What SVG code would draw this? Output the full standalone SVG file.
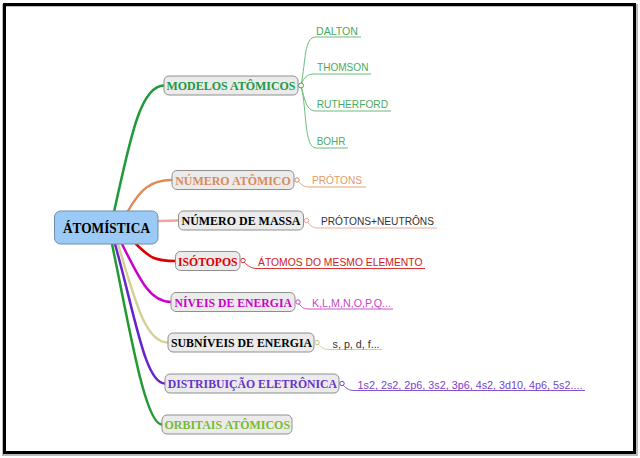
<svg xmlns="http://www.w3.org/2000/svg" width="640" height="458" viewBox="0 0 640 458">
<style>
.node rect{fill:#ebebeb;stroke:#8f8f8f;stroke-width:1}
.nt{font-family:"Liberation Serif","Times New Roman",serif;font-weight:bold;font-size:13px;text-anchor:middle}
.lt{font-family:"Liberation Sans",Arial,sans-serif;font-size:10.5px}
.conn path{fill:none;stroke-width:2.5;stroke-linecap:round}
.leaf path{fill:none;stroke-width:1}
.dot{fill:#fff;stroke-width:1}
</style>
<rect width="640" height="458" fill="#fff"/>
<rect x="3.5" y="5.5" width="633" height="449" fill="none" stroke="#bbb" stroke-width="3"/>
<rect x="4.5" y="4.5" width="630" height="448" fill="none" stroke="#000" stroke-width="3"/>

<g id="connectors" class="conn">
<path d="M114,212 C130,140 140,85.5 164,85.5" stroke="#1f9a3a"/>
<path d="M128,211 C140,190 150,180 172,180" stroke="#e08a5a"/>
<path d="M158,221 L179,220.5" stroke="#f5a3a0"/>
<path d="M136,244 C150,258 155,261 175.5,261" stroke="#dd0000"/>
<path d="M122,244 C140,280 150,302 171,302" stroke="#cc00cc"/>
<path d="M118,244 C135,300 145,342.5 168,342.5" stroke="#d3d098"/>
<path d="M115,244 C135,315 145,383.5 165,383.5" stroke="#6622cc"/>
<path d="M112,244 C130,330 145,424.5 162,424.5" stroke="#229933"/>
</g>

<g id="n-center">
<rect x="54.5" y="211" width="103.5" height="33" rx="6" fill="#9ccaf6" stroke="#6d8fae" stroke-width="1"/>
<text x="106.5" y="232.5" class="nt" fill="#000" textLength="87" lengthAdjust="spacingAndGlyphs" style="font-size:15px">ÁTOMÍSTICA</text>
</g>

<g id="n-modelos" class="node">
<rect x="164" y="76" width="134" height="19" rx="5"/>
<text x="231" y="90" class="nt" fill="#229944" textLength="129" lengthAdjust="spacingAndGlyphs">MODELOS ATÔMICOS</text>
</g>
<g id="l-modelos" class="leaf">
<path d="M301,85.5 C306,60 304,37 316,37 L361,37" stroke="#6cbb7c"/>
<path d="M301,85.5 C304,76 308,74 316,74 L371,74" stroke="#6cbb7c"/>
<path d="M301,85.5 C305,100 306,111 316,111 L391,111" stroke="#6cbb7c"/>
<path d="M301,85.5 C307,110 304,148 316,148 L348,148" stroke="#6cbb7c"/>
<circle cx="301" cy="85.5" r="2.5" class="dot" stroke="#4a9a5a"/>
<text x="316" y="34.5" class="lt" fill="#4caa60" textLength="42" lengthAdjust="spacingAndGlyphs">DALTON</text>
<text x="317" y="71" class="lt" fill="#4caa60" textLength="51.4" lengthAdjust="spacingAndGlyphs">THOMSON</text>
<text x="316.7" y="108" class="lt" fill="#4caa60" textLength="71.4" lengthAdjust="spacingAndGlyphs">RUTHERFORD</text>
<text x="316.7" y="145" class="lt" fill="#4caa60" textLength="28.6" lengthAdjust="spacingAndGlyphs">BOHR</text>
</g>

<g id="n-numatomico" class="node">
<rect x="172" y="170.5" width="122" height="19" rx="5"/>
<text x="233" y="184.7" class="nt" fill="#d98a5a" textLength="115.5" lengthAdjust="spacingAndGlyphs">NÚMERO ATÔMICO</text>
</g>
<g id="l-numatomico" class="leaf">
<path d="M298,181 C302,185 304,187 309,187 L366,187" stroke="#e8a070"/>
<circle cx="297" cy="180" r="2.2" class="dot" stroke="#d98a5a"/>
<text x="312" y="184" class="lt" fill="#e09a6a" textLength="50" lengthAdjust="spacingAndGlyphs">PRÓTONS</text>
</g>

<g id="n-nummassa" class="node">
<rect x="178.5" y="211" width="125" height="19" rx="5"/>
<text x="241" y="225.2" class="nt" fill="#000" textLength="119" lengthAdjust="spacingAndGlyphs">NÚMERO DE MASSA</text>
</g>
<g id="l-nummassa" class="leaf">
<path d="M307,221.5 C311,226 313,228 318,228 L437,228" stroke="#f4a8a0"/>
<circle cx="306.5" cy="220.5" r="2.2" class="dot" stroke="#f0a0a0"/>
<text x="321" y="225" class="lt" fill="#333" textLength="113" lengthAdjust="spacingAndGlyphs">PRÓTONS+NEUTRÔNS</text>
</g>

<g id="n-isotopos" class="node">
<rect x="175.5" y="251.5" width="64.5" height="19" rx="5"/>
<text x="207.8" y="265.7" class="nt" fill="#dd0000" textLength="59.5" lengthAdjust="spacingAndGlyphs">ISÓTOPOS</text>
</g>
<g id="l-isotopos" class="leaf">
<path d="M244,262 C248,266 251,268.5 257,268.5 L425,268.5" stroke="#dd3333"/>
<circle cx="243" cy="260.5" r="2.2" class="dot" stroke="#dd3333"/>
<text x="258" y="266" class="lt" fill="#cc2222" textLength="164.5" lengthAdjust="spacingAndGlyphs">ÁTOMOS DO MESMO ELEMENTO</text>
</g>

<g id="n-niveis" class="node">
<rect x="171" y="292.5" width="124" height="19" rx="5"/>
<text x="233.3" y="306.7" class="nt" fill="#cc00cc" textLength="117.5" lengthAdjust="spacingAndGlyphs">NÍVEIS DE ENERGIA</text>
</g>
<g id="l-niveis" class="leaf">
<path d="M299,303.5 C302,308 304,309 309,309 L393,309" stroke="#cc55cc"/>
<circle cx="298" cy="302" r="2.2" class="dot" stroke="#cc44cc"/>
<text x="312" y="307" class="lt" fill="#cc44cc" textLength="79" lengthAdjust="spacingAndGlyphs">K,L,M,N,O,P,Q...</text>
</g>

<g id="n-subniveis" class="node">
<rect x="168" y="333" width="146" height="19" rx="5"/>
<text x="241.5" y="347.2" class="nt" fill="#000" textLength="141" lengthAdjust="spacingAndGlyphs">SUBNÍVEIS DE ENERGIA</text>
</g>
<g id="l-subniveis" class="leaf">
<path d="M318,344 C322,348 324,349.5 329,349.5 L382,349.5" stroke="#d3d098"/>
<circle cx="317" cy="342.5" r="2.2" class="dot" stroke="#c8c488"/>
<text x="332.6" y="348" class="lt" fill="#333" textLength="47" lengthAdjust="spacingAndGlyphs">s, p, d, f...</text>
</g>

<g id="n-distribuicao" class="node">
<rect x="165" y="374" width="174" height="19" rx="5"/>
<text x="252.4" y="388.2" class="nt" fill="#6633cc" textLength="169.4" lengthAdjust="spacingAndGlyphs">DISTRIBUIÇÃO ELETRÔNICA</text>
</g>
<g id="l-distribuicao" class="leaf">
<path d="M343,385 C347,389 349,390.5 355,390.5 L585,390.5" stroke="#8855cc"/>
<circle cx="342" cy="383.5" r="2.2" class="dot" stroke="#7744cc"/>
<text x="357.5" y="389" class="lt" fill="#7744cc" textLength="225" lengthAdjust="spacingAndGlyphs">1s2, 2s2, 2p6, 3s2, 3p6, 4s2, 3d10, 4p6, 5s2....</text>
</g>

<g id="n-orbitais" class="node">
<rect x="162" y="415" width="130" height="19" rx="5"/>
<text x="227.3" y="429.2" class="nt" fill="#77bb33" textLength="125.5" lengthAdjust="spacingAndGlyphs">ORBITAIS ATÔMICOS</text>
</g>
</svg>
